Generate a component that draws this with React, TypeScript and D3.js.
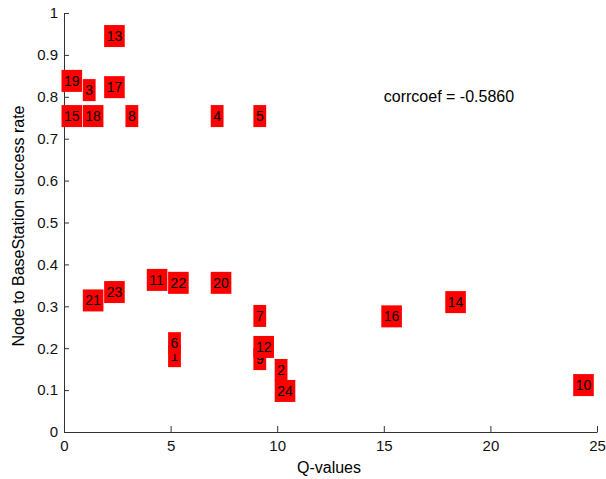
import React, { useEffect, useRef } from "react";
import * as d3 from "d3";

const WIDTH = 606;
const HEIGHT = 479;
const MARGIN = { top: 13, right: 9, bottom: 47, left: 64 };

// one entry per node, label i+1
const nodeIds = ["1","2","3","4","5","6","7","8","9","10","11","12","13","14","15","16","17","18","19","20","21","22","23","24"];
const qValues = [5, 10, 1, 7, 9, 5, 9, 3, 9, 24, 4, 9, 2, 18, 0, 15, 2, 1, 0, 7, 1, 5, 2, 10];
const successRate = [0.181, 0.148, 0.816, 0.754, 0.754, 0.212, 0.277, 0.754, 0.174, 0.112, 0.363, 0.203, 0.945, 0.31, 0.754, 0.276, 0.823, 0.754, 0.838, 0.356, 0.314, 0.356, 0.334, 0.098];

const xTicks = [0, 5, 10, 15, 20, 25];
const yTicks = [0, 0.1, 0.2, 0.3, 0.4, 0.5, 0.6, 0.7, 0.8, 0.9, 1];
const corrText = "corrcoef = -0.5860";
const corrPos = [15, 0.8];

const FONT = "'Liberation Sans', Arial, sans-serif";

const App = () => {
  const axesRef = useRef<SVGGElement>(null);
  const boundsWidth = WIDTH - MARGIN.left - MARGIN.right;
  const boundsHeight = HEIGHT - MARGIN.top - MARGIN.bottom;

  const xScale = d3.scaleLinear().domain([0, 25]).range([0, boundsWidth]);
  const yScale = d3.scaleLinear().domain([0, 1]).range([boundsHeight, 0]);

  useEffect(() => {
    const g = d3.select(axesRef.current);
    g.selectAll("*").remove();

    const xAxis = g
      .append("g")
      .attr("transform", `translate(0,${boundsHeight})`)
      .call(
        d3.axisBottom(xScale).tickValues(xTicks).tickSize(-6).tickPadding(8).tickSizeOuter(0)
      );
    const yAxis = g
      .append("g")
      .call(
        d3.axisLeft(yScale).tickValues(yTicks).tickFormat(d3.format("")).tickSize(-5).tickPadding(6).tickSizeOuter(0)
      );

    [xAxis, yAxis].forEach((ax) => {
      ax.select(".domain").attr("stroke", "#333").attr("stroke-width", 1);
      ax.selectAll(".tick line").attr("stroke", "#333");
      ax.selectAll("text")
        .attr("fill", "#111")
        .style("font-family", FONT)
        .style("font-size", "15px");
    });
  }, []);

  // node labels: text with red background, left aligned at the point
  const labels = nodeIds.map((id, i) => {
    const px = xScale(qValues[i]);
    const py = yScale(successRate[i]);
    const w = id.length * 7.8;
    return (
      <g key={id}>
        <rect x={px - 2.5} y={py - 11} width={w + 5} height={22} fill="#ff0000" />
        <text x={px} y={py} dy="0.35em" fontFamily={FONT} fontSize={14} fill="#000">
          {id}
        </text>
      </g>
    );
  });

  return (
    <svg
      width={WIDTH}
      height={HEIGHT}
      style={{ position: "absolute", left: 0, top: 0, background: "#fff" }}
    >
      <g ref={axesRef} transform={`translate(${MARGIN.left},${MARGIN.top})`} />
      <g transform={`translate(${MARGIN.left},${MARGIN.top})`}>
        {labels}
        <text
          x={xScale(corrPos[0])}
          y={yScale(corrPos[1])}
          dy="0.35em"
          fontFamily={FONT}
          fontSize={16}
          fill="#000"
        >
          {corrText}
        </text>
      </g>
      <text
        x={329}
        y={473}
        textAnchor="middle"
        fontFamily={FONT}
        fontSize={16}
        fill="#000"
      >
        Q-values
      </text>
      <text
        transform={`translate(18,226) rotate(-90)`}
        dy="0.35em"
        textAnchor="middle"
        fontFamily={FONT}
        fontSize={16}
        fill="#000"
      >
        Node to BaseStation success rate
      </text>
    </svg>
  );
};

export default App;
